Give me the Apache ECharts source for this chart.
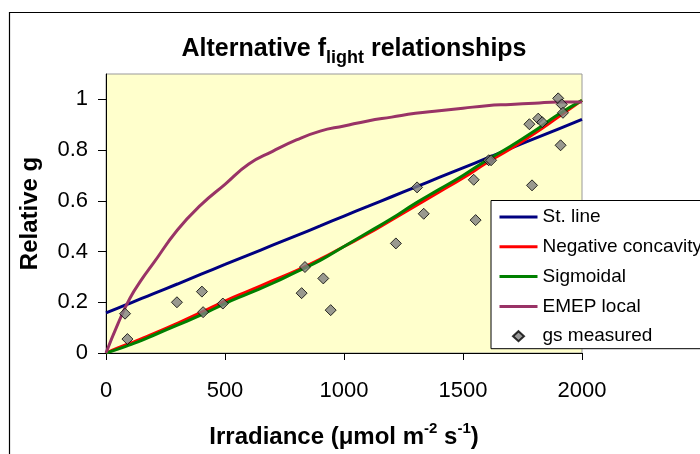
<!DOCTYPE html>
<html>
<head>
<meta charset="utf-8">
<script src="https://cdn.jsdelivr.net/npm/echarts@6/dist/echarts.min.js"></script>
<style>html,body{margin:0;padding:0;background:#fff;}#c{width:700px;height:454px;}</style>
</head>
<body>
<div id="c"></div>
<script>
// Curve sample irradiances (µmol m-2 s-1)
const curveX = [0, 50, 100, 150, 200, 300, 400, 500, 600, 700, 800, 900, 1000, 1100, 1200, 1300, 1400, 1500, 1600, 1700, 1800, 1900, 2000];
const stLine = [0.158, 0.177, 0.196, 0.215, 0.234, 0.272, 0.311, 0.349, 0.387, 0.425, 0.463, 0.501, 0.540, 0.578, 0.616, 0.654, 0.692, 0.730, 0.768, 0.807, 0.845, 0.883, 0.921];
const negConcavity = [0, 0.02, 0.038, 0.057, 0.076, 0.117, 0.16, 0.205, 0.245, 0.285, 0.325, 0.37, 0.42, 0.47, 0.525, 0.58, 0.635, 0.69, 0.75, 0.805, 0.865, 0.93, 0.996];
const sigmoidal = [0, 0.015, 0.032, 0.05, 0.07, 0.11, 0.15, 0.195, 0.235, 0.275, 0.32, 0.365, 0.42, 0.475, 0.53, 0.59, 0.645, 0.70, 0.76, 0.815, 0.875, 0.94, 0.996];
const emepLocal = [0, 0.115, 0.215, 0.29, 0.355, 0.485, 0.585, 0.665, 0.745, 0.795, 0.84, 0.875, 0.895, 0.915, 0.93, 0.945, 0.955, 0.965, 0.975, 0.98, 0.985, 0.99, 0.99];
// Measured points
const gsX = [80, 90, 298, 403, 408, 491, 822, 836, 913, 944, 1218, 1307, 1335, 1545, 1553, 1608, 1618, 1779, 1790, 1816, 1833, 1900, 1910, 1915, 1920];
const gsY = [0.155, 0.055, 0.20, 0.242, 0.161, 0.195, 0.236, 0.339, 0.294, 0.169, 0.432, 0.653, 0.549, 0.683, 0.524, 0.760, 0.760, 0.902, 0.661, 0.924, 0.910, 1.004, 0.819, 0.980, 0.947];
const seriesNames = ['St. line', 'Negative concavity', 'Sigmoidal', 'EMEP local', 'gs measured'];
const xTicks = [0, 500, 1000, 1500, 2000];
const yTicks = [0, 0.2, 0.4, 0.6, 0.8, 1];

const FONT = '"Liberation Sans", Arial, sans-serif';
const pairs = (xs, ys) => xs.map((x, i) => [x, ys[i]]);
const lineSeries = (name, ys, color) => ({
  name, type: 'line', data: pairs(curveX, ys), symbol: 'none', smooth: true,
  lineStyle: { color, width: 3 }, itemStyle: { color }, z: 2
});

const chart = echarts.init(document.getElementById('c'), null, { renderer: 'canvas' });
chart.setOption({
  animation: false,
  backgroundColor: '#fff',
  graphic: [{
    type: 'rect', shape: { x: 9.5, y: 12.5, width: 800, height: 800 },
    style: { fill: 'none', stroke: '#000', lineWidth: 1.2 }, z: 0, silent: true
  }],
  title: {
    text: '{a|Alternative f}{s|light}{a| relationships}',
    left: 354, top: 37, textAlign: 'center', padding: 0,
    textStyle: {
      rich: {
        a: { fontFamily: FONT, fontSize: 25, fontWeight: 'bold', color: '#000', lineHeight: 30, verticalAlign: 'top' },
        s: { fontFamily: FONT, fontSize: 18, fontWeight: 'bold', color: '#000', lineHeight: 17, verticalAlign: 'bottom' }
      }
    }
  },
  grid: { left: 106, right: 118, top: 74, bottom: 101, show: true, backgroundColor: '#FFFFCC', borderColor: '#999', borderWidth: 1 },
  legend: {
    data: seriesNames.map(n => n === 'gs measured'
      ? { name: n, icon: 'path://M0,5M38,5M19,0L24.5,5L19,10L13.5,5Z' }
      : { name: n, itemStyle: { opacity: 0 }, lineStyle: { width: 3 } }),
    orient: 'vertical', left: 491, top: 200.5,
    padding: [6, 30, 2, 7],
    backgroundColor: '#fff', borderColor: '#000', borderWidth: 1, borderRadius: 0,
    itemWidth: 38, itemHeight: 11, itemGap: 8.8,
    textStyle: { fontFamily: FONT, fontSize: 19, color: '#000', lineHeight: 21 }
  },
  xAxis: {
    type: 'value', min: 0, max: 2000, interval: 500,
    name: '{b|Irradiance (μmol m}{p|-2}{b| s}{p|-1}{b|)}',
    nameLocation: 'middle', nameGap: 68,
    nameTextStyle: {
      rich: {
        b: { fontFamily: FONT, fontSize: 24, fontWeight: 'bold', color: '#000', lineHeight: 28, verticalAlign: 'bottom' },
        p: { fontFamily: FONT, fontSize: 15, fontWeight: 'bold', color: '#000', lineHeight: 17, verticalAlign: 'top' }
      }
    },
    axisLine: { lineStyle: { color: '#000', width: 1 } },
    axisTick: { show: true, length: 7, lineStyle: { color: '#000' }, customValues: xTicks },
    axisLabel: { fontFamily: FONT, fontSize: 22, color: '#000', margin: 27, customValues: xTicks, formatter: v => String(v) },
    splitLine: { show: false }
  },
  yAxis: {
    type: 'value', min: 0, max: 1.1, interval: 0.2,
    name: 'Relative g', nameLocation: 'middle', nameGap: 64,
    nameTextStyle: { fontFamily: FONT, fontSize: 24, fontWeight: 'bold', color: '#000' },
    axisLine: { show: true, lineStyle: { color: '#000', width: 1 } },
    axisTick: { show: true, length: 8, lineStyle: { color: '#000' }, customValues: yTicks },
    axisLabel: { fontFamily: FONT, fontSize: 22, color: '#000', margin: 18, customValues: yTicks, formatter: v => String(+v.toFixed(1)) },
    splitLine: { show: false }
  },
  series: [
    lineSeries(seriesNames[0], stLine, '#000080'),
    lineSeries(seriesNames[1], negConcavity, '#FF0000'),
    lineSeries(seriesNames[2], sigmoidal, '#008000'),
    lineSeries(seriesNames[3], emepLocal, '#993366'),
    {
      name: seriesNames[4], type: 'scatter', data: pairs(gsX, gsY),
      symbol: 'diamond', symbolSize: 11,
      itemStyle: { color: '#808080', borderColor: '#000', borderWidth: 1 }, z: 3
    }
  ]
});
</script>
</body>
</html>
